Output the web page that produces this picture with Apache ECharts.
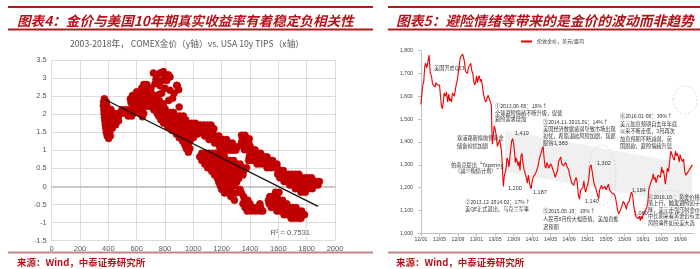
<!DOCTYPE html>
<html><head><meta charset="utf-8">
<script src="https://cdn.jsdelivr.net/npm/echarts@6/dist/echarts.min.js"></script>
<style>html,body{margin:0;padding:0;background:#fff;}#c{width:700px;height:269px;}</style>
</head><body><div id="c"></div>
<script>
// ---------- Left chart: gold (x) vs 10y TIPS (y), rows = [tips, gold, gold, ...] ----------
const scatterRows = [
  // 2003-2004
  [2.43, 372],[2.34, 366, 386],[2.24, 365, 388],[2.13, 368, 392, 418],
  [2.02, 370, 395, 420, 445, 470],[1.92, 372, 397, 422, 447, 470],[1.82, 375, 400, 425, 450, 472],
  [1.71, 378, 402, 428, 452],[1.61, 382, 405, 428],[1.50, 385, 410],[1.40, 392, 414],[1.33, 402],
  // 2005
  [2.22, 585, 610],[2.12, 495, 520, 545, 570, 595],[2.03, 500, 525, 550, 575],[1.95, 540, 565],
  // 2006-2007
  [2.82, 650, 672],[2.72, 635, 660, 685, 700],[2.62, 600, 625, 650, 675, 700],
  [2.52, 570, 595, 620, 645, 670, 695, 720],[2.42, 555, 580, 605, 630, 655, 680, 705, 730],
  [2.32, 560, 585, 610, 635, 660, 685, 710, 735],[2.22, 630, 655, 680, 705, 730, 755],
  [2.12, 615, 640, 720, 745, 770],[2.02, 625, 650, 745, 770],[1.93, 640],
  // 2008-2009
  [2.15, 750, 775, 800],[2.05, 790, 815, 840, 860],[1.95, 755, 780, 805, 830, 855, 880, 905],
  [1.85, 770, 795, 820, 845, 870, 895, 920, 945],[1.75, 790, 815, 840, 865, 890, 915, 940, 965, 990, 1015],
  [1.65, 820, 845, 870, 895, 920, 945, 970, 995, 1020],[1.55, 850, 875, 900, 925, 950, 975, 1000, 1025],
  [1.45, 880, 905, 930, 955, 980, 1005, 1030],[1.35, 900, 925, 950, 975, 1000],[1.25, 925, 950, 975],
  [1.15, 940, 965],[1.05, 950, 975],[0.95, 965],
  // 2010
  [1.70, 1050, 1075, 1100, 1125],[1.60, 1045, 1070, 1095, 1120, 1145],[1.50, 1060, 1085, 1110, 1135],
  [1.40, 1080, 1105, 1130, 1155, 1180],[1.30, 1110, 1135, 1160, 1185, 1210, 1235],
  [1.20, 1150, 1175, 1200, 1225, 1250, 1275],[1.10, 1185, 1210, 1235, 1260, 1285, 1310],
  [1.00, 1200, 1225, 1250, 1275, 1300],
  [1.42, 1340, 1365],[1.32, 1345, 1370, 1395],[1.22, 1340, 1365, 1390],[1.12, 1350, 1375, 1400],
  [1.02, 1360, 1385, 1410, 1435],[0.92, 1400, 1425, 1450, 1475],[0.82, 1395, 1420, 1445, 1470, 1495, 1520],
  [0.72, 1390, 1420, 1450, 1480, 1510, 1535, 1560],[0.62, 1450, 1480, 1510, 1540, 1565, 1590],
  [0.52, 1520, 1545, 1570, 1592],
  // 2011-2012
  [0.44, 1610, 1635],[0.34, 1595, 1620, 1645, 1670, 1695, 1720, 1745],
  [0.24, 1610, 1635, 1660, 1685, 1710, 1735, 1760, 1785, 1810, 1835],
  [0.14, 1640, 1665, 1690, 1715, 1740, 1765, 1790, 1815, 1840, 1865, 1890],
  [0.04, 1680, 1705, 1730, 1755, 1780, 1805, 1830, 1855, 1880],[-0.06, 1720, 1750, 1780, 1810, 1840],
  [-0.16, 1580, 1605, 1760, 1790],
  [-0.28, 1540, 1565, 1590],[-0.38, 1530, 1555, 1580, 1605, 1630],[-0.48, 1535, 1560, 1585, 1610, 1635, 1660],
  [-0.58, 1550, 1575, 1600, 1625, 1650, 1675, 1700, 1725],[-0.68, 1590, 1615, 1640, 1665, 1690, 1715, 1740, 1765],
  [-0.78, 1640, 1665, 1690, 1715, 1740, 1765, 1785],[-0.88, 1690, 1715, 1740, 1760],
  // 2013-2018
  [0.92, 1060, 1085, 1110, 1135, 1160, 1185],[0.82, 1045, 1070, 1095, 1120, 1145, 1170, 1195, 1220],
  [0.72, 1060, 1085, 1110, 1135, 1160, 1185, 1210, 1235, 1260, 1285],
  [0.62, 1080, 1105, 1130, 1155, 1180, 1205, 1230, 1255, 1280, 1305, 1330],
  [0.52, 1100, 1125, 1150, 1175, 1200, 1225, 1250, 1275, 1300, 1325, 1350, 1375],
  [0.42, 1130, 1155, 1180, 1205, 1230, 1255, 1280, 1305, 1330, 1355],
  [0.32, 1150, 1175, 1200, 1225, 1250, 1275, 1300, 1325, 1350],
  [0.22, 1170, 1195, 1220, 1245, 1270, 1295, 1320],[0.12, 1180, 1205, 1230, 1255, 1280, 1305],
  [0.02, 1190, 1215, 1240, 1265, 1290],[-0.08, 1200, 1230, 1260, 1330],[-0.18, 1220, 1250, 1300, 1340],
  [-0.28, 1265, 1355],[-0.38, 1290, 1360, 1385],[-0.48, 1350, 1375, 1400, 1470],
  [-0.58, 1365, 1395, 1420, 1450, 1475],[-0.68, 1380, 1410, 1440, 1470, 1490]
];
// sparse 2008 points [gold, tips]
const sparsePoints = [[718,3.14],[741,3.09],[765,3.14],[788,3.18],[800,3.06],[824,3.09],[835,3.03],
  [812,2.93],[776,2.93],[736,2.97],[729,2.84],[765,2.79],[800,2.72],[835,2.66],[864,2.58],[887,2.79],
  [896,2.68],[854,2.44],[826,2.38],[788,2.29],[760,2.38],[753,2.54],[776,2.58],[882,2.8],[900,2.2],[930,1.95]];
const trendGold = [370, 1880];
const trendTips = [2.42, -0.55];
const rSquared = 'R² = 0.7531';

// ---------- Right chart: London gold, USD/oz, values per month (Jan..Dec) ----------
const gold2012 = [[1565,1610,1650,1665,1730],[1745,1725,1752,1781],[1700,1690,1655,1662],[1640,1660,1650,1645],
  [1650,1605,1560,1545,1570],[1615,1600,1620,1575],[1610,1580,1590,1575,1615],[1610,1600,1625,1650,1665],
  [1695,1735,1770,1765],[1785,1770,1750,1710,1715],[1700,1725,1735,1745],[1710,1700,1665,1650,1660]];
const gold2013 = [[1690,1660,1680,1690,1665],[1675,1650,1610,1590],[1575,1590,1605,1600],[1575,1560,1390,1420,1470],
  [1460,1430,1380,1395],[1410,1385,1360,1285,1205],[1250,1245,1285,1330,1320],[1290,1330,1370,1405,1415],
  [1395,1360,1310,1330,1325],[1295,1315,1275,1340,1350],[1315,1280,1275,1245],[1220,1255,1230,1205,1195]];
const gold2014 = [[1225,1245,1240,1262],[1255,1290,1320,1338],[1345,1370,1380,1330,1295],[1285,1310,1300,1285,1295],
  [1305,1295,1290,1265],[1245,1260,1275,1315],[1325,1335,1305,1310,1295],[1290,1310,1295,1285],
  [1270,1250,1235,1220,1215],[1210,1230,1245,1225],[1170,1150,1190,1195],[1200,1230,1195,1180,1200]];
const gold2015 = [[1210,1235,1290,1300],[1270,1235,1210,1200],[1205,1165,1150,1190,1185],[1210,1195,1190,1205],
  [1190,1185,1215,1190],[1185,1178,1182,1175,1170],[1160,1155,1100,1085],[1090,1110,1125,1140],
  [1135,1120,1105,1130,1125],[1140,1165,1180,1165],[1115,1090,1070,1075],[1065,1075,1055,1075,1062]];
const gold2016 = [[1080,1090,1088,1112],[1130,1195,1210,1228],[1240,1260,1235,1245,1222],[1228,1255,1250,1245],
  [1290,1265,1275,1250,1215],[1245,1285,1270,1318],[1360,1345,1330,1320],[1360,1340,1350,1335,1312],
  [1345,1325,1315,1325],[1270,1255,1262,1270],[1278,1290,1300]];
const monthTickLabels = ['12/01','12/05','12/09','13/01','13/05','13/09','14/01','14/05','14/09','15/01','15/05','15/09','16/01','16/05','16/09'];
const goldSeriesName = '伦敦金价，美元/盎司';

// ---------- build ----------
const scatterData = [];
scatterRows.forEach(r => r.slice(1).forEach(g => scatterData.push([g, r[0]])));
sparsePoints.forEach(p => scatterData.push(p));
const trendData = trendGold.map((g, i) => [g, trendTips[i]]);
const goldData = [];
[gold2012, gold2013, gold2014, gold2015, gold2016].forEach((yr, yi) => {
  yr.forEach((vals, mi) => { vals.forEach((v, k) => goldData.push([yi*12 + mi + k/vals.length, v])); });
});

const RED = '#b5121b';
const CJK = '"Noto Sans CJK SC", sans-serif';
const LAT = '"Liberation Sans", Arial, sans-serif';
function t(x, y, text, size, opts) {
  return {type:'text', x, y, silent:true, style: Object.assign({text, fill:'#333', fontSize:size, fontFamily:CJK, textVerticalAlign:'middle'}, (opts||{}))};
}
function dashEllipse(cx, cy, rx, ry) {
  return {type:'ellipse', silent:true, z:1, shape:{cx, cy, rx, ry}, style:{fill:null, stroke:'#c8c8c8', lineWidth:0.7, lineDash:[2,2]}};
}
const graphics = [
  // header lines
  {type:'rect', shape:{x:8,y:6,width:365,height:2}, style:{fill:'#b01c1c'}, silent:true},
  {type:'rect', shape:{x:8,y:28.5,width:365,height:2}, style:{fill:'#b01c1c'}, silent:true},
  {type:'rect', shape:{x:388,y:6,width:312,height:2}, style:{fill:'#b01c1c'}, silent:true},
  {type:'rect', shape:{x:388,y:28.5,width:312,height:2}, style:{fill:'#b01c1c'}, silent:true},
  {type:'rect', shape:{x:8,y:251.5,width:365,height:2}, style:{fill:'#c48585'}, silent:true},
  {type:'rect', shape:{x:388,y:251.5,width:312,height:2}, style:{fill:'#c48585'}, silent:true},
  t(17, 20.5, '图表4：金价与美国10年期真实收益率有着稳定负相关性', 13.6, {fill:RED, fontWeight:'bold', fontStyle:'italic'}),
  t(396, 20.5, '图表5：避险情绪等带来的是金价的波动而非趋势', 13.8, {fill:RED, fontWeight:'bold', fontStyle:'italic'}),
  t(17, 262.5, '来源：Wind，中泰证券研究所', 9.5, {fill:RED, fontWeight:'bold'}),
  t(396, 262.5, '来源：Wind，中泰证券研究所', 9.5, {fill:RED, fontWeight:'bold'}),
  t(187, 44, '2003-2018年， COMEX金价（y轴）vs. USA 10y TIPS（x轴）', 8.7, {fill:'#595959', textAlign:'center'}),
  t(310, 233, rSquared, 7.5, {fill:'#595959', textAlign:'right', fontFamily:LAT}),
  // grey band on right chart
  {type:'polygon', z:-1, silent:true, shape:{points:[[505,130],[692,165],[692,205],[505,172]]}, style:{fill:'#f0f0f0'}},
  // dashed callouts
  dashEllipse(602, 175, 14, 30),
  dashEllipse(668, 210, 24, 20),
  dashEllipse(685, 100, 12, 14),
  // annotations
  t(434, 68, '美国开启QE3', 5.2),
  t(495, 106.5, '①2013.06-08：18%↑', 5.2),
  t(495, 113, '全球避险情绪不断升级，促使', 5.2),
  t(495, 119.5, '避险需求增加', 5.2),
  t(515, 133, '1,419', 5.5, {fontFamily:LAT}),
  t(457, 138.5, '塞浦路斯拟抛售黄金', 5.2),
  t(457, 146, '储备担忧加剧', 5.2),
  t(451, 165, '伯南克提出“Tapering', 5.2),
  t(455, 171.5, '（减少购债计划）”', 5.2),
  t(508, 188, '1,200', 5.5, {fontFamily:LAT}),
  t(465, 202, '②2013.12-2014.02：17%↑', 5.2),
  t(465, 209, '美QE正式退出，乌克兰军事', 5.2),
  t(533, 192, '1,187', 5.5, {fontFamily:LAT}),
  t(543, 122, '③2014.11-2015.01：14%↑', 5.2),
  t(543, 129, '美国经济数据疲弱导致市场出现', 5.2),
  t(543, 136, '担忧，希腊退欧风险加剧，瑞郎', 5.2),
  t(543, 143, '脱钩', 5.2),
  t(554, 143, '1,383', 5.5, {fontFamily:LAT}),
  t(597, 163, '1,302', 5.5, {fontFamily:LAT}),
  t(585, 201.5, '1,140', 5.5, {fontFamily:LAT}),
  t(620, 116.5, '④2016.01-08：30%↑', 5.2),
  t(620, 124, '美元加息预期自去年年底', 5.2),
  t(620, 131.5, '以来不断走低，3月再次', 5.2),
  t(620, 139, '加息预期不断减弱，英', 5.2),
  t(620, 146.5, '国脱欧，避险情绪升温', 5.2),
  t(632, 190, '1,184', 5.5, {fontFamily:LAT}),
  t(634, 213, '1,080', 5.5, {fontFamily:LAT}),
  t(543, 211.5, '⑤2015.08-10：10%↑', 5.2),
  t(543, 219.5, '人民币8月份大幅贬值，美加息推', 5.2),
  t(543, 227, '迟预期', 5.2),
  t(648, 197, '⑥2016.10-：黄金价格回', 5.2),
  t(648, 203.5, '落上行，触发避险因子下', 5.2),
  t(648, 210, '降，美元走强压制金价，', 5.2),
  t(648, 216.5, '中长期来看黄金仍有支撑', 5.2),
  t(648, 223, '风险事件如英美大选', 5.2)
];

const chart = echarts.init(document.getElementById('c'), null, {renderer:'canvas'});
chart.setOption({
  animation:false,
  backgroundColor:'#fff',
  textStyle:{fontFamily:LAT},
  legend:{data:[goldSeriesName], left:516, top:34, itemWidth:11, itemHeight:2, itemGap:3, icon:'rect',
    textStyle:{fontSize:5, color:'#333', fontFamily:CJK}},
  grid:[
    {left:51.7, top:60, width:283.3, height:180.7},
    {left:421, top:50.7, width:273, height:182.6}
  ],
  xAxis:[
    {gridIndex:0, type:'value', min:0, max:2000, interval:200,
      axisLine:{onZero:true, lineStyle:{color:'#bfbfbf', width:1.5}}, axisTick:{show:false},
      axisLabel:{fontSize:7.5, color:'#595959', margin:4, formatter:v => String(v)}, splitLine:{lineStyle:{color:'#dcdcdc', width:1}}},
    {gridIndex:1, type:'value', min:0, max:59, interval:4,
      axisLine:{onZero:false, lineStyle:{color:'#bfbfbf', width:1}}, axisTick:{show:true, length:3, lineStyle:{color:'#bfbfbf'}},
      axisLabel:{fontSize:5.2, color:'#404040', margin:4, showMaxLabel:false,
        formatter:v => (v % 4 === 0 && monthTickLabels[v/4]) ? monthTickLabels[v/4] : ''},
      splitLine:{show:false}}
  ],
  yAxis:[
    {gridIndex:0, type:'value', min:-1.5, max:3.5, interval:0.5,
      axisLine:{show:false}, axisTick:{show:false},
      axisLabel:{fontSize:7.5, color:'#595959', margin:5}, splitLine:{lineStyle:{color:'#dcdcdc', width:1}}},
    {gridIndex:1, type:'value', min:1000, max:1800, interval:100,
      axisLine:{show:true, lineStyle:{color:'#bfbfbf'}}, axisTick:{show:true, length:3, lineStyle:{color:'#bfbfbf'}},
      axisLabel:{fontSize:5.2, color:'#404040', margin:8, formatter:v => v.toLocaleString('en-US')},
      splitLine:{show:false}}
  ],
  series:[
    {type:'scatter', xAxisIndex:0, yAxisIndex:0, data:scatterData, symbolSize:7,
      itemStyle:{color:'#c00000', opacity:1, borderColor:'#c00000', borderWidth:0.5}, silent:true},
    {type:'line', xAxisIndex:0, yAxisIndex:0, data:trendData, symbol:'none', z:5,
      lineStyle:{color:'#111', width:1.3}, silent:true},
    {type:'line', name:goldSeriesName, xAxisIndex:1, yAxisIndex:1, data:goldData, symbol:'none',
      itemStyle:{color:'#f00000'}, lineStyle:{color:'#f00000', width:1.1}, silent:true}
  ],
  graphic:graphics
});
</script></body></html>
